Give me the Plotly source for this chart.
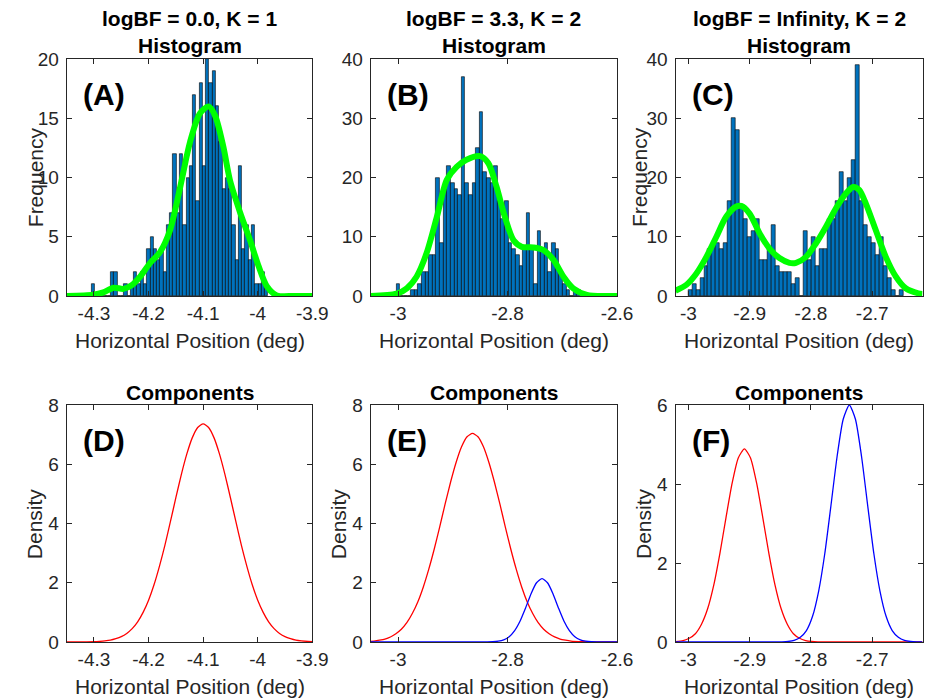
import plotly.graph_objects as go

# ---------------- data ----------------
titles_top = ["logBF = 0.0, K = 1", "logBF = 3.3, K = 2", "logBF = Infinity, K = 2"]
panel_letters = ["(A)", "(B)", "(C)", "(D)", "(E)", "(F)"]

# histogram bins: start edge, bin width, counts
hist_A_start = -4.305
hist_A_width = 0.006
hist_A_counts = [1, 0, 0, 0, 0, 0, 2, 2, 0, 0, 1, 0, 1, 2, 1, 2, 1, 4, 5, 4,
                 3, 4, 2, 6, 7, 12, 7, 12, 6, 10, 11, 17, 8, 18, 11, 20, 18, 19, 16, 13,
                 9, 10, 9, 6, 3, 11, 4, 6, 3, 6, 1, 1, 2, 1]

hist_B_start = -3.003
hist_B_width = 0.0066
hist_B_counts = [2, 0, 0, 0, 1, 1, 2, 4, 4, 7, 7, 20, 9, 18, 22, 19, 18, 17, 37, 19,
                 17, 19, 25, 31, 21, 20, 19, 22, 16, 13, 16, 9, 8, 7, 5, 8, 14, 8, 2, 11,
                 8, 9, 4, 9, 8, 4, 2, 1, 0, 1, 1]

hist_C_start = -3.0005
hist_C_width = 0.0065
hist_C_counts = [1, 2, 1, 3, 5, 8, 9, 9, 8, 9, 16, 30, 28, 15, 13, 10, 11, 13, 6, 6,
                 8, 12, 5, 4, 4, 4, 2, 3, 0, 11, 6, 10, 5, 8, 8, 13, 13, 16, 21, 16,
                 20, 23, 39, 16, 12, 10, 9, 7, 10, 5, 3, 1, 0, 1]

# smoothed density (green)
kde_A_x = [-4.35, -4.301, -4.283, -4.264, -4.246, -4.231, -4.216, -4.197, -4.179, -4.161,
           -4.142, -4.124, -4.106, -4.090, -4.078, -4.063, -4.051, -4.032, -4.014, -3.999,
           -3.983, -3.965, -3.934, -3.90]
kde_A_y = [0.0, 0.1, 0.3, 0.7, 0.6, 0.9, 1.6, 2.8, 3.7, 5.5,
           9.2, 13.0, 15.4, 16.0, 15.2, 12.6, 9.8, 7.0, 4.7, 2.6,
           0.8, 0.05, 0.0, 0.0]

kde_B_x = [-3.05, -3.0025, -2.984, -2.966, -2.948, -2.929, -2.911, -2.893, -2.875, -2.850,
           -2.835, -2.820, -2.805, -2.789, -2.774, -2.753, -2.735, -2.716, -2.698, -2.680,
           -2.655, -2.619, -2.60]
kde_B_y = [0.0, 0.4, 1.3, 3.3, 7.2, 13.4, 19.6, 21.8, 23.0, 23.6,
           22.4, 18.4, 13.4, 9.4, 8.3, 8.2, 7.8, 6.1, 3.3, 1.3,
           0.2, 0.0, 0.0]

kde_C_x = [-3.021, -3.0031, -2.9869, -2.9706, -2.9543, -2.9381, -2.9218, -2.9137, -2.9001, -2.8839,
           -2.8676, -2.8514, -2.8351, -2.8243, -2.8080, -2.7917, -2.7755, -2.7592, -2.7430, -2.7310,
           -2.7213, -2.7104, -2.6942, -2.6779, -2.6617, -2.6454, -2.6248, -2.618]
kde_C_y = [0.9, 1.9, 3.8, 6.6, 10.0, 13.4, 15.1, 15.2, 13.9, 10.6,
           8.0, 6.4, 5.6, 5.6, 6.6, 8.9, 11.7, 14.8, 17.3, 18.4,
           17.9, 15.6, 11.1, 6.6, 3.3, 1.3, 0.45, 0.35]

# component densities
comp_D_red_x = [-4.35, -4.32, -4.30, -4.29, -4.28, -4.27, -4.26, -4.25, -4.24, -4.23,
                -4.22, -4.21, -4.20, -4.19, -4.18, -4.17, -4.16, -4.15, -4.14, -4.13,
                -4.12, -4.11, -4.10, -4.09, -4.08, -4.07, -4.06, -4.05, -4.04, -4.03,
                -4.02, -4.01, -4.00, -3.99, -3.98, -3.97, -3.96, -3.95, -3.94, -3.93,
                -3.92, -3.90]
comp_D_red_y = [0.0, 0.003, 0.01, 0.02, 0.035, 0.06, 0.11, 0.18, 0.29, 0.45,
                0.68, 1.00, 1.41, 1.93, 2.56, 3.27, 4.06, 4.87, 5.65, 6.34,
                6.89, 7.24, 7.36, 7.24, 6.89, 6.34, 5.65, 4.87, 4.06, 3.27,
                2.56, 1.93, 1.41, 1.00, 0.68, 0.45, 0.29, 0.18, 0.11, 0.06,
                0.035, 0.01]

comp_E_red_x = [-3.05, -3.044, -3.034, -3.024, -3.014, -3.004, -2.994, -2.984, -2.974, -2.964,
                -2.954, -2.944, -2.934, -2.924, -2.914, -2.904, -2.894, -2.884, -2.874, -2.864,
                -2.854, -2.844, -2.834, -2.824, -2.814, -2.804, -2.794, -2.784, -2.774, -2.764,
                -2.754, -2.744, -2.734, -2.724, -2.714, -2.704, -2.694, -2.684, -2.664, -2.60]
comp_E_red_y = [0.02, 0.03, 0.06, 0.10, 0.17, 0.28, 0.43, 0.65, 0.96, 1.35,
                1.85, 2.45, 3.13, 3.88, 4.66, 5.40, 6.06, 6.59, 6.93, 7.04,
                6.93, 6.59, 6.06, 5.40, 4.66, 3.88, 3.13, 2.45, 1.85, 1.35,
                0.96, 0.65, 0.43, 0.28, 0.17, 0.10, 0.06, 0.03, 0.01, 0.0]
comp_E_blue_x = [-3.05, -2.85, -2.837, -2.827, -2.817, -2.807, -2.797, -2.787, -2.777, -2.767,
                 -2.757, -2.747, -2.737, -2.727, -2.717, -2.707, -2.697, -2.687, -2.677, -2.667,
                 -2.657, -2.647, -2.637, -2.60]
comp_E_blue_y = [0.0, 0.0, 0.002, 0.008, 0.027, 0.074, 0.18, 0.385, 0.71, 1.15,
                 1.63, 2.00, 2.14, 2.00, 1.63, 1.15, 0.71, 0.385, 0.18, 0.074,
                 0.027, 0.008, 0.002, 0.0]

comp_F_red_x = [-3.021, -3.0086, -2.9986, -2.9886, -2.9786, -2.9686, -2.9586, -2.9486, -2.9386, -2.9286,
                -2.9186, -2.9086, -2.8986, -2.8886, -2.8786, -2.8686, -2.8586, -2.8486, -2.8386, -2.8286,
                -2.8186, -2.8086, -2.7986, -2.7886, -2.75, -2.618]
comp_F_red_y = [0.01, 0.037, 0.094, 0.21, 0.45, 0.84, 1.44, 2.24, 3.15, 4.02,
                4.66, 4.89, 4.66, 4.02, 3.15, 2.24, 1.44, 0.84, 0.45, 0.21,
                0.094, 0.037, 0.013, 0.004, 0.0, 0.0]
comp_F_blue_x = [-3.021, -2.88, -2.8574, -2.8474, -2.8374, -2.8274, -2.8174, -2.8074, -2.7974, -2.7874,
                 -2.7774, -2.7674, -2.7574, -2.7474, -2.7374, -2.7274, -2.7174, -2.7074, -2.6974, -2.6874,
                 -2.6774, -2.6674, -2.6574, -2.6474, -2.6374, -2.6274, -2.618]
comp_F_blue_y = [0.0, 0.0, 0.001, 0.004, 0.013, 0.041, 0.12, 0.29, 0.65, 1.29,
                 2.24, 3.45, 4.69, 5.64, 6.00, 5.64, 4.69, 3.45, 2.24, 1.29,
                 0.65, 0.29, 0.12, 0.041, 0.013, 0.004, 0.002]

# axes: ranges and ticks
x_ranges = [[-4.35, -3.9], [-3.05, -2.6], [-3.021, -2.618]]
x_tickvals = [[-4.3, -4.2, -4.1, -4.0, -3.9], [-3.0, -2.8, -2.6], [-3.0, -2.9, -2.8, -2.7]]
x_ticktext = [["-4.3", "-4.2", "-4.1", "-4", "-3.9"], ["-3", "-2.8", "-2.6"], ["-3", "-2.9", "-2.8", "-2.7"]]
y_ranges_top = [[0, 20], [0, 40], [0, 40]]
y_ticks_top = [[0, 5, 10, 15, 20], [0, 10, 20, 30, 40], [0, 10, 20, 30, 40]]
y_ranges_bot = [[0, 8], [0, 8], [0, 6]]
y_ticks_bot = [[0, 2, 4, 6, 8], [0, 2, 4, 6, 8], [0, 2, 4, 6]]

# ---------------- layout geometry (pixels) ----------------
W, H = 925, 700
col_px = [(66.7, 312.3), (370.7, 617.0), (675.5, 922.5)]
row_px = [(59, 296), (405, 642)]
ylabel_shift = [-31, -32, -36]

FONT = "Liberation Sans, Arial, Helvetica, sans-serif"
AXC = "#262626"
BAR_COLOR = "#0072BD"
GREEN = "#00FF00"

fig = go.Figure()
layout = dict(template="none", width=W, height=H, autosize=False, margin=dict(l=0, r=0, t=0, b=0, pad=0),
              paper_bgcolor="white", plot_bgcolor="white", showlegend=False,
              bargap=0, font=dict(family=FONT, color=AXC), annotations=[])

def axis_common(standoff):
    return dict(showline=True, linecolor=AXC, linewidth=1, mirror="ticks", ticks="inside",
                ticklen=5, tickcolor=AXC, showgrid=False, zeroline=False, automargin=False,
                ticklabelstandoff=standoff,
                tickfont=dict(family=FONT, size=19, color=AXC))

hists = [(hist_A_start, hist_A_width, hist_A_counts),
         (hist_B_start, hist_B_width, hist_B_counts),
         (hist_C_start, hist_C_width, hist_C_counts)]
kdes = [(kde_A_x, kde_A_y), (kde_B_x, kde_B_y), (kde_C_x, kde_C_y)]
comps = [[(comp_D_red_x, comp_D_red_y, "red")],
         [(comp_E_red_x, comp_E_red_y, "red"), (comp_E_blue_x, comp_E_blue_y, "blue")],
         [(comp_F_red_x, comp_F_red_y, "red"), (comp_F_blue_x, comp_F_blue_y, "blue")]]

TITLE_SIZE = 21
LABEL_SIZE = 21

ann = layout["annotations"]
for r in range(2):
    for c in range(3):
        idx = r * 3 + c + 1
        xa = "x" if idx == 1 else f"x{idx}"
        ya = "y" if idx == 1 else f"y{idx}"
        xkey = "xaxis" if idx == 1 else f"xaxis{idx}"
        ykey = "yaxis" if idx == 1 else f"yaxis{idx}"
        x0, x1 = col_px[c]
        y0, y1 = row_px[r]
        xd = dict(axis_common(0), domain=[x0 / W, x1 / W], range=x_ranges[c],
                  tickvals=x_tickvals[c], ticktext=x_ticktext[c], anchor=ya)
        yr = y_ranges_top[c] if r == 0 else y_ranges_bot[c]
        yt = y_ticks_top[c] if r == 0 else y_ticks_bot[c]
        yd = dict(axis_common(3), domain=[1 - y1 / H, 1 - y0 / H], range=yr,
                  tickvals=yt, ticktext=[str(v) for v in yt], anchor=xa)
        layout[xkey] = xd
        layout[ykey] = yd

        if r == 0:
            start, width, counts = hists[c]
            centers = [start + width * (i + 0.5) for i in range(len(counts))]
            fig.add_trace(go.Bar(x=centers, y=counts, width=width, xaxis=xa, yaxis=ya,
                                 marker=dict(color=BAR_COLOR, line=dict(color="black", width=0.6)),
                                 hoverinfo="skip"))
            kx, ky = kdes[c]
            fig.add_trace(go.Scatter(x=kx, y=ky, mode="lines", xaxis=xa, yaxis=ya,
                                     line=dict(color=GREEN, width=6, shape="spline", smoothing=0.8),
                                     hoverinfo="skip"))
            ann.append(dict(text="<b>" + titles_top[c] + "</b>", xref=f"{xa} domain", yref=f"{ya} domain",
                            x=0.5, y=1, yshift=41, xanchor="center", yanchor="middle",
                            showarrow=False, font=dict(size=TITLE_SIZE, color="black", family=FONT)))
            ann.append(dict(text="<b>Histogram</b>", xref=f"{xa} domain", yref=f"{ya} domain",
                            x=0.5, y=1, yshift=14, xanchor="center", yanchor="middle",
                            showarrow=False, font=dict(size=TITLE_SIZE, color="black", family=FONT)))
            ylab = "Frequency"
        else:
            for cx, cy, col in comps[c]:
                fig.add_trace(go.Scatter(x=cx, y=cy, mode="lines", xaxis=xa, yaxis=ya,
                                         line=dict(color=col, width=1.3, shape="spline", smoothing=0.6),
                                         hoverinfo="skip"))
            ann.append(dict(text="<b>Components</b>", xref=f"{xa} domain", yref=f"{ya} domain",
                            x=0.5, y=1, yshift=13, xanchor="center", yanchor="middle",
                            showarrow=False, font=dict(size=TITLE_SIZE, color="black", family=FONT)))
            ylab = "Density"
        # x axis title
        ann.append(dict(text="Horizontal Position (deg)", xref=f"{xa} domain", yref=f"{ya} domain",
                        x=0.5, y=0, yshift=-44, xanchor="center", yanchor="middle",
                        showarrow=False, font=dict(size=LABEL_SIZE, color=AXC, family=FONT)))
        if not (r == 0 and c == 1):
            shift = ylabel_shift[c] if r == 0 else -32
            ann.append(dict(text=ylab, xref=f"{xa} domain", yref=f"{ya} domain",
                            x=0, y=0.5, xshift=shift, xanchor="center", yanchor="middle", textangle=-90,
                            showarrow=False, font=dict(size=LABEL_SIZE, color=AXC, family=FONT)))
        # panel letter
        ann.append(dict(text="<b>" + panel_letters[idx - 1] + "</b>", xref=f"{xa} domain", yref=f"{ya} domain",
                        x=0, y=1, xshift=14, yshift=-35, xanchor="left", yanchor="middle",
                        showarrow=False, font=dict(size=30, color="black", family=FONT)))

fig.update_layout(**layout)
fig.write_html("out.html", config={"displayModeBar": False},
               post_script="document.body.style.margin='0px';document.body.style.overflow='hidden';")
